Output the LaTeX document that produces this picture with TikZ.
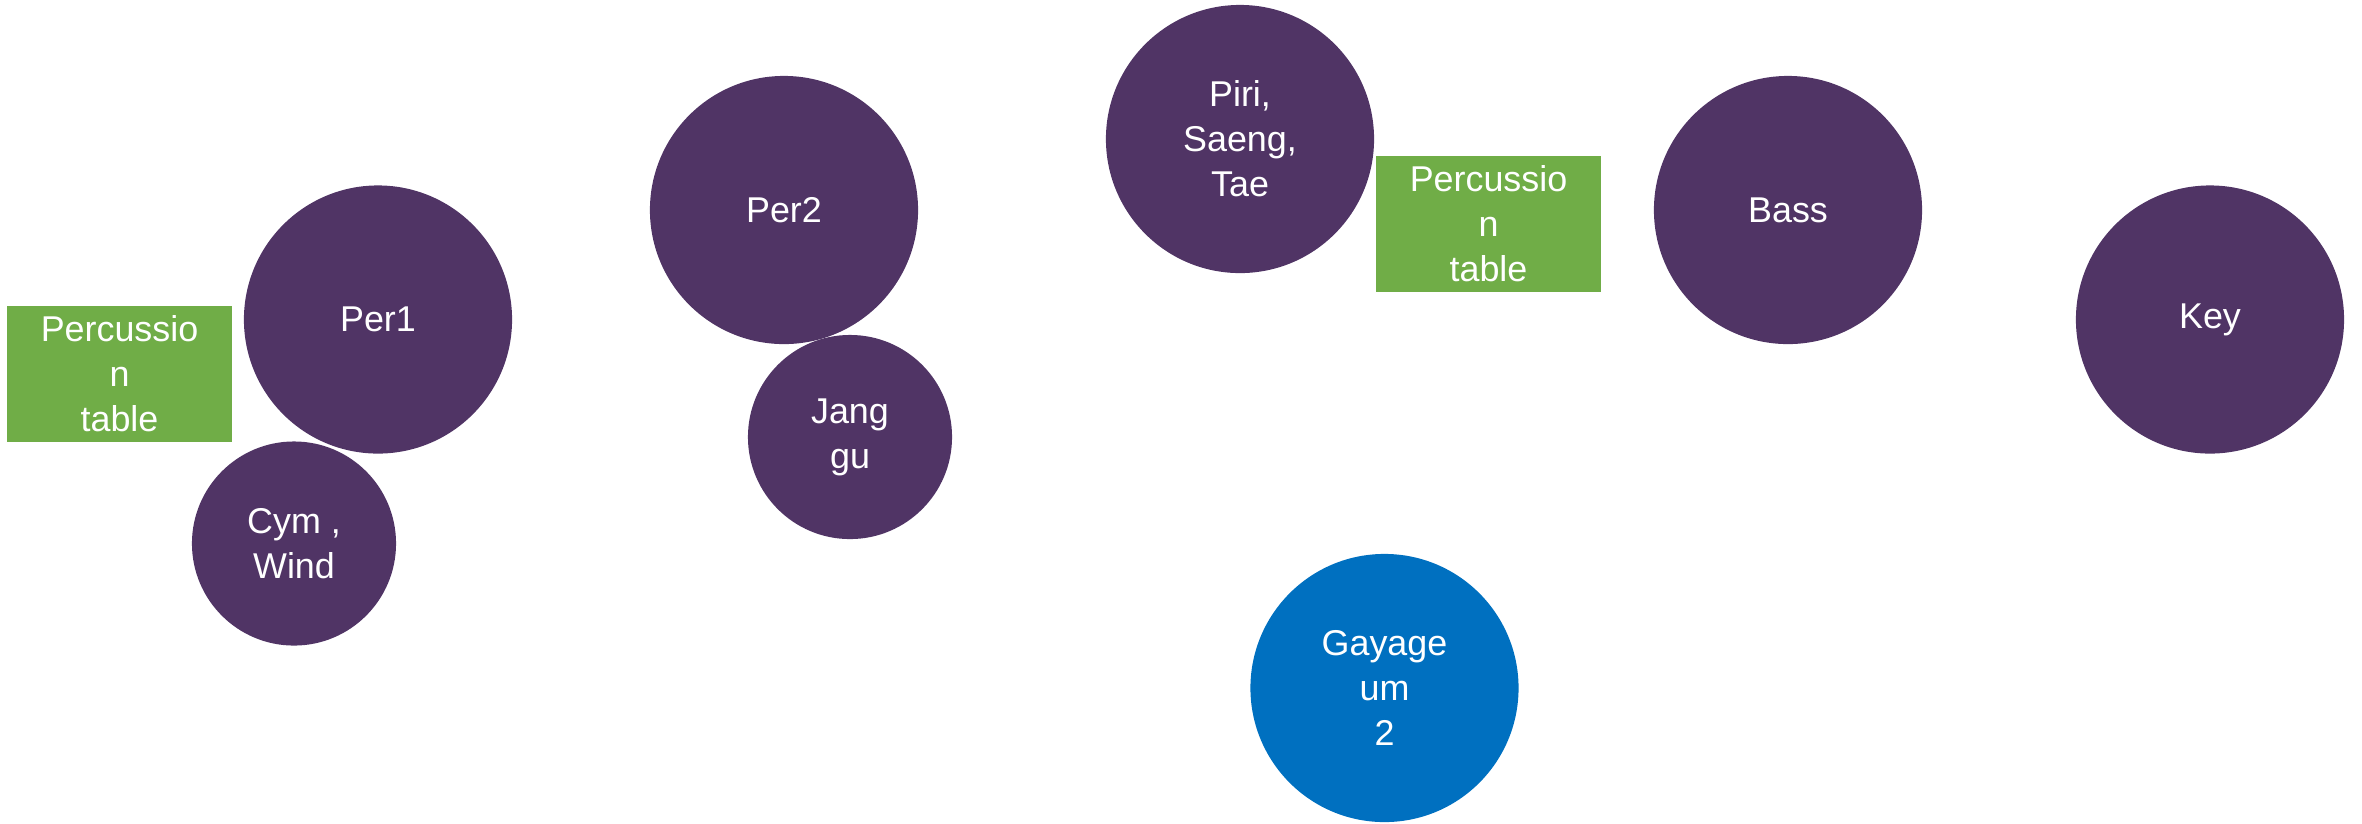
\documentclass[tikz,border=0pt]{standalone}
\usepackage{fontspec}
\setmainfont{Liberation Sans}
\usetikzlibrary{positioning}
\definecolor{seatPurple}{RGB}{80,52,101}
\definecolor{tableGreen}{RGB}{112,173,71}
\definecolor{soloBlue}{RGB}{0,112,192}

\begin{document}
\begin{tikzpicture}[x=0.01cm, y=-0.01cm,
    player/.style={circle, fill=seatPurple, text=white, inner sep=0pt, minimum size=2.68cm, align=center, font=\fontsize{10.2}{12.8}\selectfont},
    smallplayer/.style={player, minimum size=2.04cm},
    soloist/.style={player, fill=soloBlue},
    perctable/.style={rectangle, fill=tableGreen, text=white, inner sep=0pt, minimum width=2.25cm, minimum height=1.36cm, align=center, font=\fontsize{10.2}{12.8}\selectfont}]
                \useasboundingbox (0,0) rectangle (2362,823);

                % Left percussion group
                \node[perctable] (tableL) at (119.5,374) {Percussio\\n\\table};
                \node[player] (per1) at (378,319.5) {Per1};
                \node[smallplayer] (cymwind) at (294,543.5) {Cym ,\\Wind};

                % Second percussion and janggu
                \node[player] (per2) at (784,210) {Per2};
                \node[smallplayer] (janggu) at (850,437) {Jang\\gu};

                % Winds and right table
                \node[player] (piri) at (1240,139) {Piri,\\Saeng,\\Tae};
                \node[perctable] (tableR) at (1488.5,224) {Percussio\\n\\table};

                % Rhythm section
                \node[player] (bass) at (1788,210) {Bass};
                \node[player] (key) at (2210,319.5) {Key};

                % Soloist in front
                \node[soloist] (gayageum) at (1384.5,688) {Gayage\\um\\2};
\end{tikzpicture}
\end{document}
